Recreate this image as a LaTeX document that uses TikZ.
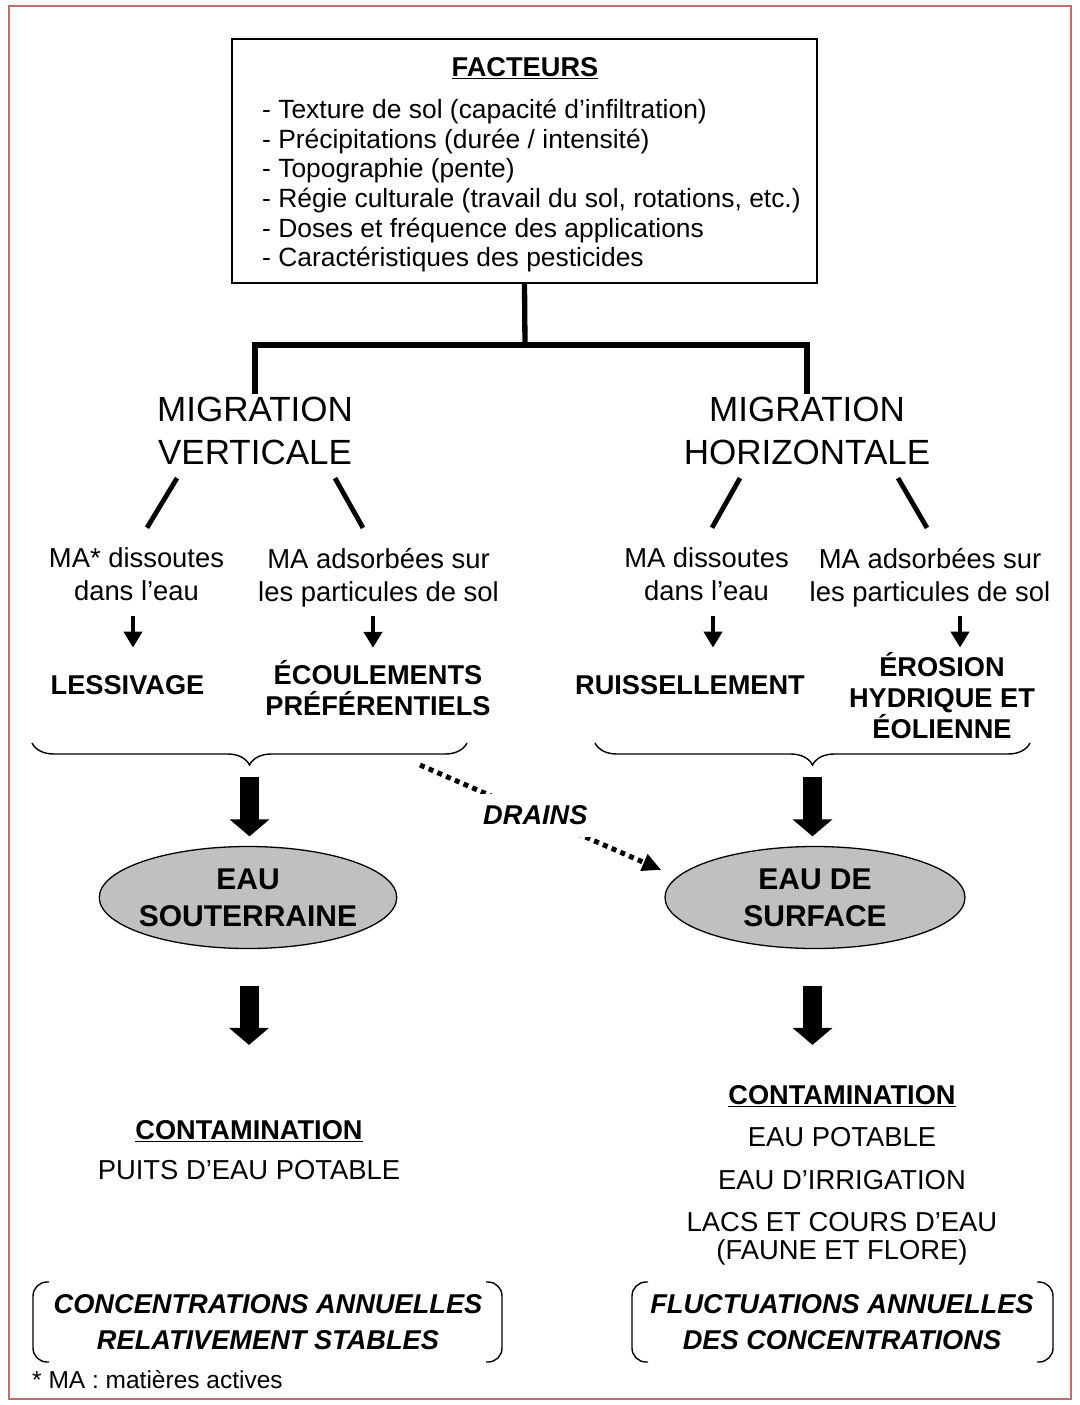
\documentclass[tikz,border=0pt]{standalone}
\usepackage{fontspec}
\setmainfont{Liberation Sans}
\usepackage{tikz}
\usetikzlibrary{calc,arrows.meta,shapes.geometric,decorations.pathreplacing}
\definecolor{frame}{HTML}{BF6F6F}
\definecolor{water}{HTML}{C0C0C0}
\tikzset{
  txt/.style={font=\fontsize{27.4}{33}\selectfont, align=center, inner sep=0pt},
  lst/.style={font=\fontsize{26.4}{30}\selectfont, inner sep=0pt},
  hd/.style={txt, font=\fontsize{27.2}{31}\selectfont\bfseries},
  hdi/.style={txt, font=\fontsize{27.2}{36}\selectfont\bfseries\itshape},
  big/.style={font=\fontsize{35}{43}\selectfont, align=center, inner sep=0pt},
  note/.style={font=\fontsize{24.5}{28}\selectfont, inner sep=0pt},
  factbox/.style={draw=black, line width=1.3pt, minimum width=585pt, minimum height=244pt, inner sep=0pt},
  outline/.style={draw=frame, line width=1.5pt},
  tree/.style={draw=black, line width=5.3pt, line join=miter},
  stroke/.style={draw=black, line width=4.8pt},
  sarrow/.style={draw=black, line width=4.5pt, -{Triangle[width=18pt,length=16pt]}},
  barrow/.style={draw=black, line width=19pt, -{Triangle[width=39pt,length=17pt]}},
  drain/.style={draw=black, line width=5pt, dash pattern=on 5pt off 4.5pt, -{Triangle[width=17pt,length=19pt]}},
  pool/.style={ellipse, draw=black, line width=1.3pt, fill=water, inner sep=0pt, minimum height=102pt,
    font=\fontsize{30}{37}\selectfont\bfseries, align=center},
  brc/.style={draw=black, line width=1.4pt, decorate, decoration={brace, mirror, amplitude=22pt}},
  paren/.style={draw=black, line width=1.4pt, rounded corners=14pt},
}
\begin{document}
\begin{tikzpicture}[x=1pt,y=-1pt]
  \useasboundingbox (0,0) rectangle (1079,1405);
  \draw[outline] (9,6) rectangle (1071,1399);
  % facteurs
  \node[factbox] (fact) at (524.5,161) {};
  \node[hd, anchor=base] (facth) at (525,76.5) {\underline{FACTEURS}};
  \foreach \f [count=\i] in {{Texture de sol (capacité d’infiltration)}, {Précipitations (durée / intensité)},
    {Topographie (pente)}, {Régie culturale (travail du sol, rotations, etc.)},
    {Doses et fréquence des applications}, {Caractéristiques des pesticides}}
    \node[lst, anchor=base west] (f\i) at (262,89+29.6*\i) {- \f};
  % migrations
  \coordinate (jn) at (525,345);
  \node[big] (migv) at (255,430.5) {MIGRATION\\VERTICALE};
  \node[big] (migh) at (807,430.5) {MIGRATION\\HORIZONTALE};
  \draw[tree] (fact.south) -- (jn);
  \draw[tree, shorten <=2pt, shorten >=2pt] (migv.north) |- (jn) -| (migh.north);
  \node[txt] (mav1) at (136.5,574.5) {MA* dissoutes\\dans l’eau};
  \node[txt] (mav2) at (378.5,577.5) {MA adsorbées sur\\les particules de sol};
  \node[txt] (mah1) at (706.5,574.5) {MA dissoutes\\dans l’eau};
  \node[txt] (mah2) at (930,577.5) {MA adsorbées sur\\les particules de sol};
  \draw[stroke] ([shift={(-78,13.5)}]migv.south) -- ([shift={(10.5,-20)}]mav1.north);
  \draw[stroke] ([shift={(80,13.5)}]migv.south) -- ([shift={(-15.5,-20)}]mav2.north);
  \draw[stroke] ([shift={(-67,13.5)}]migh.south) -- ([shift={(5.5,-20)}]mah1.north);
  \draw[stroke] ([shift={(91,13.5)}]migh.south) -- ([shift={(-3,-20)}]mah2.north);
  % processus
  \node[hd, anchor=base] (less) at (127.5,694.8) {LESSIVAGE};
  \node[hd] (ecou) at (378,687.7) {ÉCOULEMENTS\\PRÉFÉRENTIELS};
  \node[hd, anchor=base] (ruis) at (690,694.8) {RUISSELLEMENT};
  \node[hd] (eros) at (942,696) {ÉROSION\\HYDRIQUE ET\\ÉOLIENNE};
  \draw[sarrow] ([shift={(-3.5,15)}]mav1.south) -- ([shift={(5.5,-28)}]less.north);
  \draw[sarrow] ([shift={(-5.5,9)}]mav2.south) -- ([shift={(-5,-12)}]ecou.north);
  \draw[sarrow] ([shift={(6.5,15)}]mah1.south) -- ([shift={(23,-28)}]ruis.north);
  \draw[sarrow] ([shift={(30,9)}]mah2.south) -- ([shift={(18,-5)}]eros.north);
  \draw[brc] (32,743) -- (467,743);
  \draw[brc] (595,743) -- (1030,743);
  \coordinate (tv) at (249.5,765);
  \coordinate (th) at (812.5,765);
  % eaux
  \node[pool, minimum width=280pt, inner xsep=-4pt] (eso) at (248,897.5) {EAU\\SOUTERRAINE};
  \node[pool, minimum width=300pt] (esu) at (815,897.5) {EAU DE\\SURFACE};
  \draw[barrow, shorten <=12pt, shorten >=9.5pt] (tv) -- (tv |- eso.north);
  \draw[barrow, shorten <=12pt, shorten >=9.5pt] (th) -- (th |- esu.north);
  \coordinate (dr) at (420,765);
  \draw[drain] (dr) -- ([shift={(-3,-27.5)}]esu.west)
    node[pos=0.478, hdi, fill=white, inner xsep=8pt, inner ysep=12pt] (drl) {DRAINS};
  % contamination
  \node[hd, anchor=base] (cl) at (249,1139.8) {\underline{CONTAMINATION}};
  \node[txt, anchor=base] (cl1) at (249,1179.8) {PUITS D’EAU POTABLE};
  \node[hd, anchor=base] (cr) at (842,1104.8) {\underline{CONTAMINATION}};
  \node[txt, anchor=base] (cr1) at (842,1146.8) {EAU POTABLE};
  \node[txt, anchor=base] (cr2) at (842,1189.8) {EAU D’IRRIGATION};
  \node[txt, anchor=base] (cr3) at (842,1231.8) {LACS ET COURS D’EAU};
  \node[txt, anchor=base] (cr4) at (842,1259.8) {(FAUNE ET FLORE)};
  \draw[barrow, shorten <=36.5pt, shorten >=75.7pt] ([xshift=1pt]eso.south) -- ([xshift=1pt]eso.south |- cl.north);
  \draw[barrow, shorten <=36.5pt, shorten >=40.7pt] ([xshift=-2.5pt]esu.south) -- ([xshift=-2.5pt]esu.south |- cr.north);
  % tendances
  \node[hdi] (tl) at (268,1322) {CONCENTRATIONS ANNUELLES\\RELATIVEMENT STABLES};
  \node[hdi] (tr) at (842,1322) {FLUCTUATIONS ANNUELLES\\DES CONCENTRATIONS};
  \draw[paren] (49,1282) -- (33,1282) -- (33,1362) -- (49,1362);
  \draw[paren] (486,1282) -- (502,1282) -- (502,1362) -- (486,1362);
  \draw[paren] (648,1282) -- (632,1282) -- (632,1362) -- (648,1362);
  \draw[paren] (1037,1282) -- (1053,1282) -- (1053,1362) -- (1037,1362);
  \node[note, anchor=base west] (fn) at (32,1388) {* MA : matières actives};
\end{tikzpicture}
\end{document}
